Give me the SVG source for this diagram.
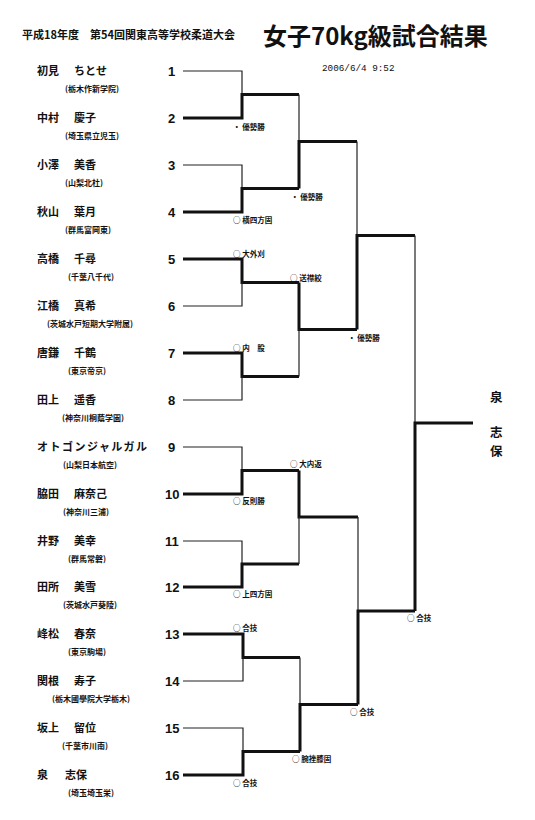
<svg xmlns="http://www.w3.org/2000/svg" width="535" height="820" viewBox="0 0 535 820">
<style>
text{font-family:"Noto Sans CJK JP","Liberation Sans",sans-serif;fill:#111}
.nm{font-size:11px;font-weight:bold}
.sc{font-size:8px;font-weight:bold}
.no{font-family:"Liberation Sans",sans-serif;font-size:13px;font-weight:bold}
.lb{font-size:7.5px;font-weight:bold}
.w{font-size:12.5px;font-weight:bold}
.t{fill:none;stroke:#222;stroke-width:1.2}
.k{fill:none;stroke:#111;stroke-width:3}
</style>
<rect width="535" height="820" fill="#fff"/>
<g id="header">
<text x="22" y="39" style="font-size:11px;font-weight:bold">平成18年度　第54回関東高等学校柔道大会</text>
<text x="263" y="45" style="font-size:24px;font-weight:bold">女子70kg級試合結果</text>
<text x="322" y="71" style="font-family:'Liberation Mono',monospace;font-size:9.3px">2006/6/4 9:52</text>
</g>
<g id="p1"><text class="nm" x="37" y="75">初見<tspan x="74">ちとせ</tspan></text><text class="sc" x="65" y="92">(栃木作新学院)</text><text class="no" x="168" y="76">1</text></g>
<g id="p2"><text class="nm" x="37" y="122">中村<tspan x="74">慶子</tspan></text><text class="sc" x="65" y="139">(埼玉県立児玉)</text><text class="no" x="168" y="123">2</text></g>
<g id="p3"><text class="nm" x="37" y="169">小澤<tspan x="74">美香</tspan></text><text class="sc" x="65" y="186">(山梨北杜)</text><text class="no" x="168" y="170">3</text></g>
<g id="p4"><text class="nm" x="37" y="216">秋山<tspan x="74">葉月</tspan></text><text class="sc" x="65" y="233">(群馬富岡東)</text><text class="no" x="168" y="217">4</text></g>
<g id="p5"><text class="nm" x="37" y="263">高橋<tspan x="74">千尋</tspan></text><text class="sc" x="68" y="280">(千葉八千代)</text><text class="no" x="168" y="264">5</text></g>
<g id="p6"><text class="nm" x="37" y="310">江橋<tspan x="74">真希</tspan></text><text class="sc" x="47" y="327">(茨城水戸短期大学附属)</text><text class="no" x="168" y="311">6</text></g>
<g id="p7"><text class="nm" x="37" y="357">唐鎌<tspan x="74">千鶴</tspan></text><text class="sc" x="68" y="374">(東京帝京)</text><text class="no" x="168" y="358">7</text></g>
<g id="p8"><text class="nm" x="37" y="404">田上<tspan x="74">遥香</tspan></text><text class="sc" x="62" y="421">(神奈川桐蔭学園)</text><text class="no" x="168" y="405">8</text></g>
<g id="p9"><text class="nm" x="37" y="451" textLength="110">オトゴンジャルガル</text><text class="sc" x="63" y="468">(山梨日本航空)</text><text class="no" x="168" y="452">9</text></g>
<g id="p10"><text class="nm" x="37" y="498">脇田<tspan x="74">麻奈己</tspan></text><text class="sc" x="63" y="515">(神奈川三浦)</text><text class="no" x="165" y="499">10</text></g>
<g id="p11"><text class="nm" x="37" y="545">井野<tspan x="74">美幸</tspan></text><text class="sc" x="68" y="562">(群馬常磐)</text><text class="no" x="165" y="546">11</text></g>
<g id="p12"><text class="nm" x="37" y="591">田所<tspan x="74">美雪</tspan></text><text class="sc" x="63" y="608">(茨城水戸葵陵)</text><text class="no" x="165" y="592">12</text></g>
<g id="p13"><text class="nm" x="37" y="638">峰松<tspan x="74">春奈</tspan></text><text class="sc" x="68" y="655">(東京駒場)</text><text class="no" x="165" y="639">13</text></g>
<g id="p14"><text class="nm" x="37" y="685">関根<tspan x="74">寿子</tspan></text><text class="sc" x="52" y="702">(栃木國學院大学栃木)</text><text class="no" x="165" y="686">14</text></g>
<g id="p15"><text class="nm" x="37" y="732">坂上<tspan x="74">留位</tspan></text><text class="sc" x="62" y="749">(千葉市川南)</text><text class="no" x="165" y="733">15</text></g>
<g id="p16"><text class="nm" x="37" y="779">泉<tspan x="65">志保</tspan></text><text class="sc" x="68" y="796">(埼玉埼玉栄)</text><text class="no" x="165" y="780">16</text></g>
<g id="connectors">
<path class="t" d="M183 71H242V94.5"/>
<path class="k" d="M183 118H242V94.5H299"/>
<path class="t" d="M183 165H242V188.5"/>
<path class="k" d="M183 212H242V188.5H299"/>
<path class="t" d="M299 94.5V141.5"/>
<path class="k" d="M299 188.5V141.5H357"/>
<path class="k" d="M183 259H242V282.5H299"/>
<path class="t" d="M183 306H242V282.5"/>
<path class="k" d="M183 353H242V376.5H299"/>
<path class="t" d="M183 400H242V376.5"/>
<path class="k" d="M299 282.5V329.5H357"/>
<path class="t" d="M299 376.5V329.5"/>
<path class="t" d="M357 141.5V235.5"/>
<path class="k" d="M357 329.5V235.5H415"/>
<path class="t" d="M415 235.5V423"/>
<path class="k" d="M415 611V423H473"/>
<path class="t" d="M183 447H242V470.5"/>
<path class="k" d="M183 494H242V470.5H299"/>
<path class="t" d="M183 541H242V564"/>
<path class="k" d="M183 587H242V564H299"/>
<path class="k" d="M299 470.5V517H358"/>
<path class="t" d="M299 564V517"/>
<path class="t" d="M358 517V611"/>
<path class="k" d="M358 704.5V611H415"/>
<path class="k" d="M183 634H243V657.5H300"/>
<path class="t" d="M183 681H243V657.5"/>
<path class="t" d="M183 728H243V751.5"/>
<path class="k" d="M183 775H243V751.5H300"/>
<path class="t" d="M300 657.5V704.5"/>
<path class="k" d="M300 751.5V704.5H358"/>
</g>
<g id="labels">
<text class="lb" x="233" y="130">・ 優勢勝</text>
<text class="lb" x="233" y="223">○ 横四方固</text>
<text class="lb" x="291" y="200">・ 優勢勝</text>
<text class="lb" x="233" y="257">○ 大外刈</text>
<text class="lb" x="290" y="281">○ 送襟絞</text>
<text class="lb" x="348" y="341">・ 優勢勝</text>
<text class="lb" x="233" y="351">○ 内　股</text>
<text class="lb" x="290" y="467">○ 大内返</text>
<text class="lb" x="233" y="504">○ 反則勝</text>
<text class="lb" x="233" y="597">○ 上四方固</text>
<text class="lb" x="407" y="621">○ 合技</text>
<text class="lb" x="233" y="631">○ 合技</text>
<text class="lb" x="350" y="715">○ 合技</text>
<text class="lb" x="292" y="762">○ 腕挫膝固</text>
<text class="lb" x="233" y="786">○ 合技</text>
</g>
<g id="winner">
<text class="w" x="490" y="402">泉</text>
<text class="w" x="490" y="437">志</text>
<text class="w" x="490" y="456">保</text>
</g>
</svg>
